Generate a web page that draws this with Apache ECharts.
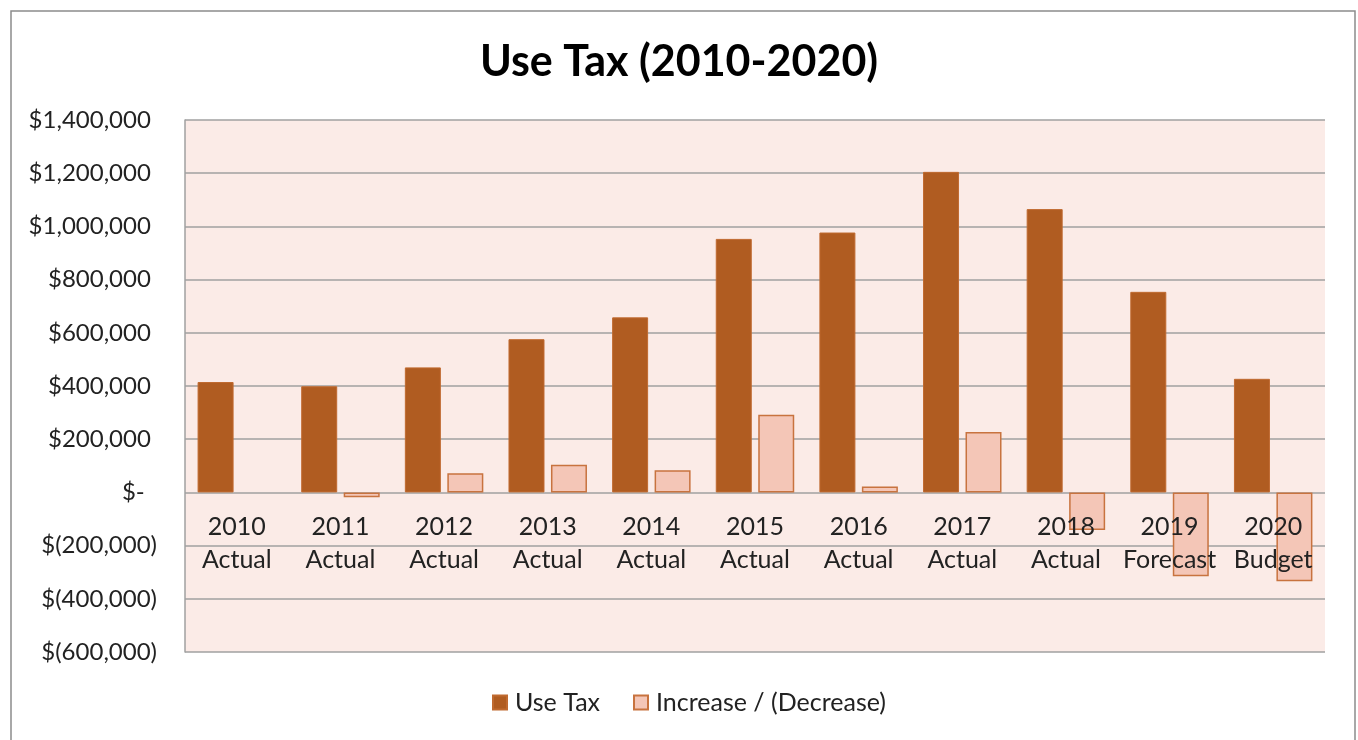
<!DOCTYPE html>
<html>
<head>
<meta charset="utf-8">
<title>Use Tax (2010-2020)</title>
<script src="https://cdn.jsdelivr.net/npm/echarts@6/dist/echarts.min.js"></script>
<style>
  html, body { margin: 0; padding: 0; background: #fff; }
  #chart { width: 1358px; height: 740px; }
</style>
</head>
<body>
<div id="chart"></div>
<script>
// categories (year + type)
var years = ['2010', '2011', '2012', '2013', '2014', '2015', '2016', '2017', '2018', '2019', '2020']
var kinds = ['Actual', 'Actual', 'Actual', 'Actual', 'Actual', 'Actual', 'Actual', 'Actual', 'Actual', 'Forecast', 'Budget']

// values (no change bar for 2010)
var useTax = [415000, 399000, 470000, 576000, 658000, 953000, 977000, 1205000, 1065000, 754000, 427000]
var change = [null, -18000, 72000, 104000, 83000, 292000, 22000, 227000, -141000, -315000, -334000]

var yMin = -600000
var yMax = 1400000
var yStep = 200000

var labelFont = 'Lato, "Open Sans", sans-serif'
var categories = years.map(function(y, i) { return y + '\n' + kinds[i] })

function money(v) {
  if (v === 0) return '$-  '
  var s = Math.abs(v).toString().replace(/\B(?=(\d{3})+(?!\d))/g, ',')
  return v < 0 ? '$(' + s + ')' : '$' + s + ' '
}

var chart = echarts.init(document.getElementById('chart'))
chart.setOption({
  animation: false,
  backgroundColor: '#ffffff',
  title: {
    text: 'Use Tax (2010-2020)',
    left: 'center',
    top: 36,
    textStyle: {
      fontFamily: labelFont,
      fontSize: 43,
      fontWeight: 'bold',
      color: '#000000'
    }
  },
  graphic: [{
    type: 'rect',
    left: 8.5,
    top: 8.5,
    shape: { width: 1344, height: 740 },
    style: { fill: null, stroke: '#8c8c8c', lineWidth: 1.5 },
    silent: true
  }],
  legend: {
    bottom: 20,
    left: 487,
    icon: 'rect',
    itemWidth: 14,
    itemHeight: 14,
    itemGap: 33,
    textStyle: {
      fontFamily: labelFont,
      fontSize: 25,
      color: '#222222',
      padding: [0, 0, 0, 3]
    },
    data: ['Use Tax', 'Increase / (Decrease)']
  },
  grid: {
    left: 185,
    right: 33,
    top: 120,
    bottom: 88,
    show: true,
    backgroundColor: '#fbebe7',
    borderWidth: 0
  },
  xAxis: {
    type: 'category',
    data: categories,
    position: 'bottom',
    offset: -160, // sit on the zero line like the original
    z: 5, // labels drawn over the bars
    axisTick: { show: false },
    axisLine: { show: false },
    axisLabel: {
      margin: 18,
      interval: 0,
      fontFamily: labelFont,
      fontSize: 25,
      lineHeight: 33,
      color: '#222222'
    }
  },
  yAxis: {
    type: 'value',
    min: yMin,
    max: yMax,
    interval: yStep,
    axisLine: {
      show: true,
      lineStyle: { color: '#a0a0a0', width: 1.5 }
    },
    axisTick: { show: false },
    splitLine: {
      lineStyle: { color: '#a0a0a0', width: 1.5 }
    },
    axisLabel: {
      margin: 28,
      fontFamily: labelFont,
      fontSize: 24,
      color: '#222222',
      formatter: money
    }
  },
  series: [{
    name: 'Use Tax',
    type: 'bar',
    data: useTax,
    barWidth: 36,
    barGap: '18%',
    itemStyle: {
      color: '#b05c21',
      borderColor: '#c06a30',
      borderWidth: 1
    }
  }, {
    name: 'Increase / (Decrease)',
    type: 'bar',
    data: change,
    barWidth: 36,
    itemStyle: {
      color: '#f4c6b7',
      borderColor: '#c8733f',
      borderWidth: 1.5
    }
  }]
})
</script>
</body>
</html>
